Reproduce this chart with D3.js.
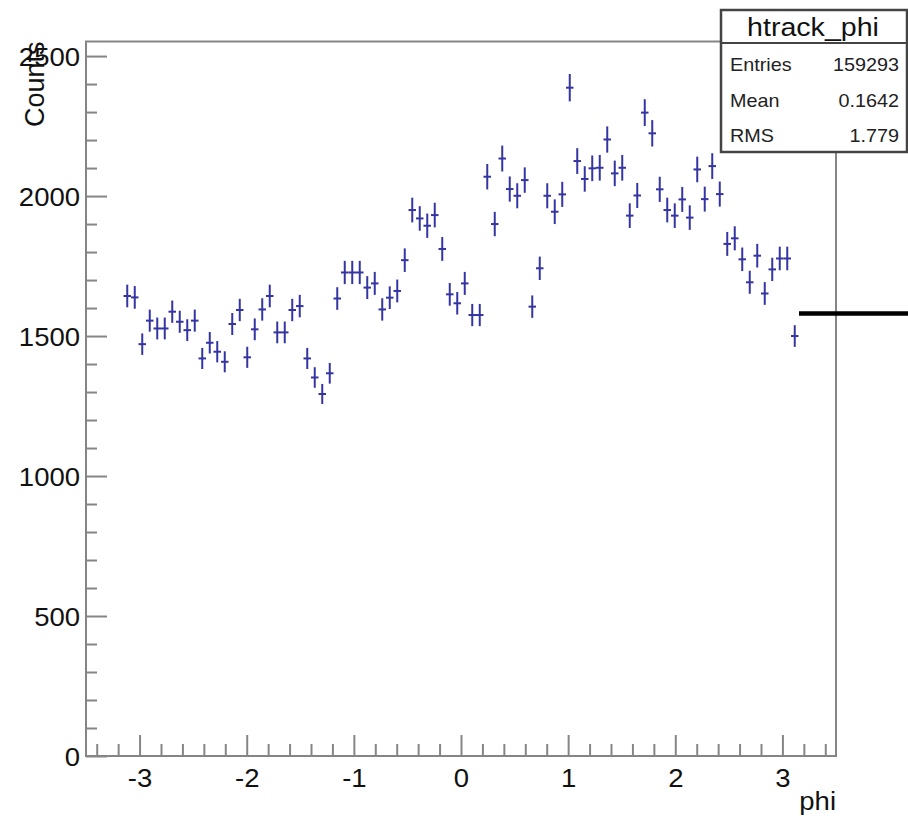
<!DOCTYPE html>
<html>
<head>
<meta charset="utf-8">
<script src="https://cdn.jsdelivr.net/npm/d3@7"></script>
<style>
  body { margin: 0; background: #ffffff; }
  svg { display: block; font-family: "Liberation Sans", Arial, Helvetica, sans-serif; }
</style>
</head>
<body>
<div id="chart"></div>
<script>
// histogram definition (100 bins from -3.5 to 3.5), only bins 5..94 are filled
const nbins = 100;
const xmin = -3.5;
const xmax = 3.5;
const firstBin = 5;
const counts = [
  1643, 1638, 1471, 1555, 1527, 1527, 1587, 1551, 1521, 1555,
  1420, 1476, 1444, 1408, 1543, 1593, 1424, 1524, 1595, 1643,
  1513, 1513, 1593, 1607, 1420, 1352, 1293, 1367, 1634, 1727,
  1727, 1727, 1673, 1688, 1595, 1637, 1661, 1771, 1950, 1920,
  1894, 1932, 1811, 1649, 1617, 1688, 1575, 1575, 2069, 1900,
  2134, 2025, 2001, 2057, 1605, 1742, 2001, 1944, 2006, 2387,
  2125, 2061, 2099, 2101, 2202, 2081, 2101, 1930, 2002, 2298,
  2224, 2024, 1950, 1930, 1988, 1923, 2095, 1989, 2107, 2007,
  1829, 1849, 1774, 1692, 1787, 1652, 1738, 1777, 1777, 1500
];
const xTicks = [-3, -2, -1, 0, 1, 2, 3];
const yTicks = [0, 500, 1000, 1500, 2000, 2500];
const yMax = 2552;
const histName = "htrack_phi";
const statLabels = ["Entries", "Mean", "RMS"];
const statValues = ["159293", "0.1642", "1.779"];
const xTitle = "phi";
const yTitle = "Counts";

const width = 908;
const height = 821;
const frame = { left: 86, right: 836, top: 41.5, bottom: 756 };
const axisColor = "#858585";
const markColor = "#3434a2";
const stretch = 1.1;

const svg = d3.select("#chart").append("svg")
  .attr("width", width)
  .attr("height", height);

const x = d3.scaleLinear().domain([xmin, xmax]).range([frame.left, frame.right]);
const y = d3.scaleLinear().domain([0, yMax]).range([frame.bottom, frame.top]);

// frame
svg.append("rect")
  .attr("x", frame.left).attr("y", frame.top)
  .attr("width", frame.right - frame.left).attr("height", frame.bottom - frame.top)
  .attr("fill", "none").attr("stroke", axisColor).attr("stroke-width", 2);

// x axis: ticks point inward (up)
const gx = svg.append("g").attr("transform", `translate(0,${frame.bottom})`);
gx.call(d3.axisBottom(x).tickValues(xTicks).tickSize(-21).tickFormat(d => String(d)).tickPadding(0));
const xMinor = d3.range(-34, 35, 2).map(d => d / 10).filter(d => Math.abs(d % 1) > 0.01);
const gxm = svg.append("g").attr("transform", `translate(0,${frame.bottom})`);
gxm.call(d3.axisBottom(x).tickValues(xMinor).tickSize(-12).tickFormat(""));

// y axis
const gy = svg.append("g").attr("transform", `translate(${frame.left},0)`);
gy.call(d3.axisLeft(y).tickValues(yTicks).tickSize(-21).tickFormat(d => String(d)).tickPadding(0));
const yMinor = d3.range(100, 2600, 100).filter(d => d % 500 !== 0);
const gym = svg.append("g").attr("transform", `translate(${frame.left},0)`);
gym.call(d3.axisLeft(y).tickValues(yMinor).tickSize(-11).tickFormat(""));

[gx, gxm, gy, gym].forEach(g => {
  g.select(".domain").remove();
  g.selectAll(".tick line").attr("stroke", axisColor).attr("stroke-width", 2);
});

gx.selectAll(".tick text")
  .attr("y", null).attr("dy", null)
  .attr("transform", `translate(0,31) scale(${stretch},1)`)
  .attr("font-size", 25).attr("fill", "#111");

gy.selectAll(".tick text")
  .attr("x", null).attr("dy", null)
  .attr("text-anchor", "end")
  .attr("transform", `translate(-6,9) scale(${stretch},1)`)
  .attr("font-size", 25).attr("fill", "#111");

// axis titles
svg.append("text")
  .attr("transform", `translate(${frame.right},${810}) scale(${stretch},1)`)
  .attr("text-anchor", "end")
  .attr("font-size", 25).attr("fill", "#111")
  .text(xTitle);

svg.append("text")
  .attr("transform", `translate(44,${frame.top}) rotate(-90)`)
  .attr("text-anchor", "end")
  .attr("font-size", 27).attr("fill", "#111")
  .text(yTitle);

// histogram points with errors
const bw = (xmax - xmin) / nbins;
const bins = counts.map((c, i) => {
  const lo = xmin + (firstBin + i) * bw;
  return { lo: lo, hi: lo + bw, c: c, e: Math.sqrt(c) };
});

const pts = svg.append("g").attr("stroke", markColor).attr("stroke-width", 2);
pts.selectAll("line.h").data(bins).join("line")
  .attr("class", "h")
  .attr("x1", d => x(d.lo)).attr("x2", d => x(d.hi))
  .attr("y1", d => y(d.c)).attr("y2", d => y(d.c));
pts.selectAll("line.v").data(bins).join("line")
  .attr("class", "v")
  .attr("x1", d => x((d.lo + d.hi) / 2)).attr("x2", d => x((d.lo + d.hi) / 2))
  .attr("y1", d => y(d.c - d.e)).attr("y2", d => y(d.c + d.e));

// stats box
const box = { x: 721, y: 10, w: 186, h: 142, titleH: 33 };
const sg = svg.append("g");
sg.append("rect")
  .attr("x", box.x).attr("y", box.y).attr("width", box.w).attr("height", box.h)
  .attr("fill", "#fff").attr("stroke", "#444").attr("stroke-width", 2.5);
sg.append("line")
  .attr("x1", box.x).attr("x2", box.x + box.w)
  .attr("y1", box.y + box.titleH).attr("y2", box.y + box.titleH)
  .attr("stroke", "#444").attr("stroke-width", 2);
sg.append("text")
  .attr("transform", `translate(${box.x + box.w / 2 - 1},36) scale(${stretch},1)`)
  .attr("text-anchor", "middle")
  .attr("font-size", 26).attr("fill", "#111")
  .text(histName);
statLabels.forEach((lab, i) => {
  const by = 71 + i * 35.5;
  sg.append("text")
    .attr("transform", `translate(${box.x + 9},${by}) scale(${stretch},1)`)
    .attr("font-size", 18).attr("fill", "#222")
    .text(lab);
  sg.append("text")
    .attr("transform", `translate(${box.x + box.w - 8},${by}) scale(${stretch},1)`)
    .attr("text-anchor", "end")
    .attr("font-size", 18).attr("fill", "#222")
    .text(statValues[i]);
});

// black marker line at the right edge
svg.append("line")
  .attr("x1", 799).attr("x2", 908).attr("y1", 313.5).attr("y2", 313.5)
  .attr("stroke", "#000").attr("stroke-width", 4.5);
</script>
</body>
</html>
